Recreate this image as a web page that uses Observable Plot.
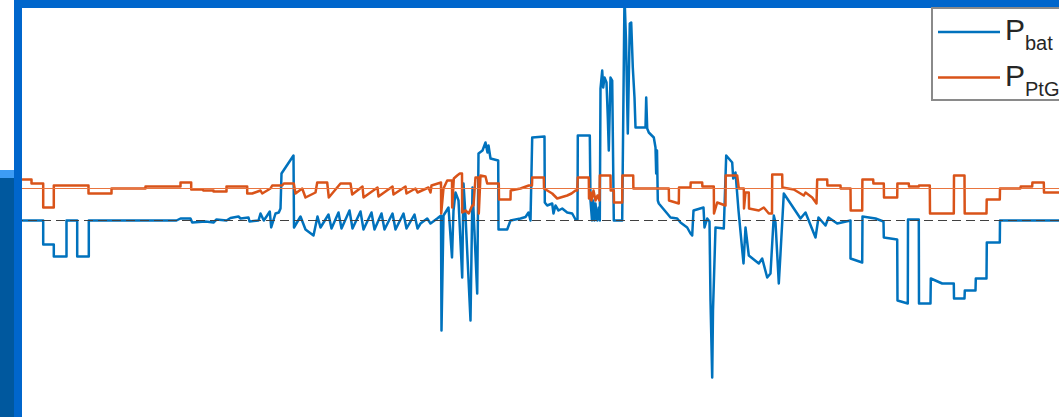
<!DOCTYPE html>
<html>
<head>
<meta charset="utf-8">
<script src="https://cdn.jsdelivr.net/npm/d3@7"></script>
<script src="https://cdn.jsdelivr.net/npm/@observablehq/plot@0.6"></script>
<style>
  html, body { margin: 0; padding: 0; background: #fff; }
  #wrap { position: relative; width: 1059px; height: 417px; overflow: hidden; font-family: "Liberation Sans", Arial, sans-serif; }
  #chart { position: absolute; left: 0; top: 0; }
  .deco { position: absolute; }
</style>
</head>
<body>
<div id="wrap">
  <div id="chart"></div>
  <div class="deco" style="left:14px;top:0;width:1045px;height:8px;background:#0066cc"></div>
  <div class="deco" style="left:14px;top:0;width:8px;height:417px;background:#0066cc"></div>
  <div class="deco" style="left:0;top:170px;width:14px;height:8px;background:#3d9cf5"></div>
  <div class="deco" style="left:0;top:178px;width:14px;height:239px;background:#00589e"></div>
  <div id="legend" class="deco" style="left:931px;top:7px;"></div>
</div>
<script>
// time index (samples) and power values
const batT = [0,20.7,20.7,31.3,31.3,44,44,54.7,54.7,66.3,66.3,154,158,168,169.7,183,191,194,204,208,216,218,226,227,236,238,241.3,244.7,247.3,248.7,253,256.3,258,259,271,271.5,
  278,283,291,295,298,306,309,316,319,327,330,338,341,349,352,359,362,370,373,381,384,392,395,398,404.7,408,414.7,418.5,419,421,426,429.5,431,433,436,439.7,441,443,448,450,454.7,456,460,463,465,466,468,475.7,476,484.7,488,493,498,503,506,508,509.7,522,522.3,524.7,529.7,531,533,536,539.7,544.7,549.7,553,555,555.3,567.3,568,569.5,570.7,572,573,574.7,576.3,577.3,
  578,579.7,580.7,582,584,585.3,586.3,588,589.7,591.3,599.7,602,603.5,605.3,607.3,608.7,610.3,612,613,623,623.7,624.7,626.3,631.3,633,633.7,634.5,635.3,636.3,644.7,648,654.7,658,664.7,668,669.7,671,681,682,684.7,687,688,689.7,690.5,693,701.3,703.7,709.7,710.7,713,716,721,723,726.3,736.3,739.7,744.7,748,751.3,753,756.3,758,761.3,768,778,783,793,796,803,806,814.7,828,828,839.7,840,853,861,861.3,874.7,875,885.3,885.5,896.3,896.5,908,908.3,919.7,931.3,931.5,942,942.3,953,953.3,964,964.3,977.3,977.5,1037];
const batP = [0,0,-2.4,-2.4,-3.6,-3.6,0,0,-3.6,-3.6,0,0,0.2,0.2,-0.2,-0.1,-0.2,0.1,0,0.25,0.4,0.2,0.3,-0.1,0,0.7,0,0.5,0.9,-0.7,0.7,0.8,1.2,4.7,6.5,-0.7,
  0.4,-0.9,-1.5,0.4,-0.7,0.6,-0.8,0.8,-0.8,1.0,-0.8,0.9,-0.9,0.8,-0.9,0.7,-0.9,0.7,-0.9,0.7,-0.8,0.6,-0.8,-0.3,0.2,-0.3,0.2,0.5,-11,0.5,1.3,-3.7,1.0,2.8,2.0,-5.7,3.7,0.5,-10,3.3,-7.3,6.7,7.0,7.8,6.8,7.5,6.2,6.0,-0.9,-0.9,0,0.1,0.2,0.35,0.8,0,8.3,8.4,1.8,1.5,1.7,0.7,1.5,1.0,1.2,0.8,0.7,0.1,0.1,8.5,8.5,2.0,0,2.0,0,1.7,0,1.3,0,
  13.2,15,13.3,14.3,13.8,10.3,7.0,14.3,14.0,0,0,22.5,18,8.7,19.7,19.8,15.3,12.3,9.3,9.3,12.3,9.2,8.8,8.3,7.3,4.7,7.0,2.0,1.7,0.7,0.3,0.2,-0.2,-0.7,-1.3,-1.5,1.0,1.3,-0.7,0.2,-0.1,-8,-15.7,-9,-0.7,-0.8,6.5,5.8,4.2,4.8,1.0,-4.3,-0.7,-3.5,-4.3,-3.8,-5.7,-5.3,0.5,-0.2,-6.3,-3.3,2.7,1.7,0.2,0.8,-1.7,0.3,-0.5,0.3,-0.3,0,-3.8,-4.2,0.4,0.2,-0.1,-1.7,-1.9,-8,-8.3,0.1,0.1,-8.3,-8.3,-5.8,-6.3,-6.3,-7.8,-7.8,-7.0,-7.0,-5.8,-5.8,-2.2,-2.2,0,0];

const ptgT = [0,9,9,20.7,20.7,31.3,31.3,66,66,89,89,123,123,158,158,168.7,168.7,180,181,191,191,204,204,224.7,224.7,229.7,238,239.7,248,249.7,259.7,261.3,271.3,273,279.7,283,293,294.7,304.7,306.3,318,328,329.7,340,341,355,356,370,371,383,384,393,395,406,408,409,418.5,418.7,421,424.7,429.5,429.7,431.3,434.7,437.3,439.5,439.7,443,446.3,449.7,451,453,456,456.3,458,463,464.7,476.3,476.5,488,488.2,498,506.3,509.5,509.7,521.3,521.5,529.7,534.7,544.7,549,553,554.7,555.3,566.3,566.5,568,569,571,573,575,577,577.3,588,588.2,591.3,591.5,599.7,599.9,610.7,610.9,646.3,646.5,656.3,656.5,668,668.2,679.7,679.9,691.3,691.5,694.7,703,703.2,714.7,716.3,721.3,721.5,723,726.3,726.5,736.3,741.3,746.3,749.5,749.7,759.7,759.9,771.3,781.3,783,789.7,794,794.7,804.7,804.9,818,818.2,828,828.2,839.7,839.9,850.7,850.9,861.3,861.5,874.7,874.9,886.3,886.5,896.3,896.5,907.3,907.5,931.3,931.5,942,942.2,964,964.2,977.3,977.5,998,998.2,1009.7,1009.9,1021.3,1021.5,1037];
const ptgP = [4.1,4.1,3.7,3.7,1.3,1.3,3.5,3.5,2.7,2.7,3.2,3.2,3.4,3.4,3.8,3.8,3.1,3.1,3.0,3.0,2.9,2.9,3.4,3.4,2.7,2.7,3.0,2.7,3.2,3.5,3.5,3.7,3.7,2.7,3.2,2.3,2.8,3.8,3.8,2.3,3.7,3.7,2.6,3.4,2.3,3.3,2.4,3.4,2.6,3.4,2.7,3.2,2.8,3.3,2.8,3.5,3.8,0.7,3.2,4.0,4.0,1.3,4.2,4.5,4.7,4.7,0.8,1.0,0.7,1.5,1.5,4.3,4.3,0.7,4.5,4.4,3.7,3.7,2.1,2.1,3.0,3.2,3.5,3.5,4.3,4.3,3.2,2.7,2.2,2.5,2.7,3.0,3.0,4.3,4.3,2.2,2.8,2.0,3.0,2.0,2.5,2.0,4.5,4.5,3.0,3.0,1.8,1.8,4.5,4.5,3.2,3.2,2.0,1.7,3.3,3.3,3.8,3.8,3.4,3.4,0.7,1.8,1.5,4.5,4.5,3.2,3.2,1.2,2.8,2.8,1.2,1.0,1.3,0.7,0.7,4.6,4.6,3.3,3.1,2.5,2.8,2.3,1.7,4.1,4.1,3.5,3.5,3.2,3.2,1.0,1.0,4.1,4.1,3.7,3.7,2.3,2.3,3.7,3.7,3.4,3.4,3.5,3.5,0.7,0.7,4.5,4.5,0.7,0.7,2.1,2.1,3.2,3.2,3.4,3.4,3.8,3.8,2.8,2.8];

const refLevel = 3.2;
const zeroLevel = 0;
const seriesNames = ["bat", "PtG"];
const seriesColors = ["#0072BD", "#D95319"];

const bat = batT.map((t, i) => ({t, v: batP[i]}));
const ptg = ptgT.map((t, i) => ({t, v: ptgP[i]}));

const chart = Plot.plot({
  width: 1059,
  height: 417,
  margin: 0,
  style: {background: "transparent", overflow: "hidden"},
  x: {domain: [-22, 1037], range: [0, 1059], axis: null},
  y: {domain: [-19.7, 22], range: [417, 0], axis: null},
  marks: [
    Plot.line(bat, {x: "t", y: "v", stroke: seriesColors[0], strokeWidth: 2.5, clip: true}),
    Plot.line(ptg, {x: "t", y: "v", stroke: seriesColors[1], strokeWidth: 2.5, clip: true}),
    Plot.ruleY([refLevel], {stroke: "#e9753f", strokeWidth: 1}),
    Plot.ruleY([zeroLevel], {stroke: "#404040", strokeWidth: 1, strokeDasharray: "9,5"})
  ]
});
document.getElementById("chart").appendChild(chart);

// legend
const ns = "http://www.w3.org/2000/svg";
const lg = document.createElementNS(ns, "svg");
lg.setAttribute("width", 140);
lg.setAttribute("height", 100);
lg.style.display = "block";
let html = `<rect x="1" y="1" width="160" height="92" fill="#fff" stroke="#8a8a8a" stroke-width="2"/>`;
seriesNames.forEach((name, i) => {
  const cy = 25 + i * 45.5;
  html += `<line x1="7" x2="69" y1="${cy}" y2="${cy}" stroke="${seriesColors[i]}" stroke-width="2.5"/>`;
  html += `<text x="74" y="${cy + 8}" font-family="Liberation Sans, Arial, sans-serif" font-size="30" fill="#262626">P<tspan x="94" y="${cy + 18}" font-size="20">${name}</tspan></text>`;
});
lg.innerHTML = html;
document.getElementById("legend").appendChild(lg);
</script>
</body>
</html>
